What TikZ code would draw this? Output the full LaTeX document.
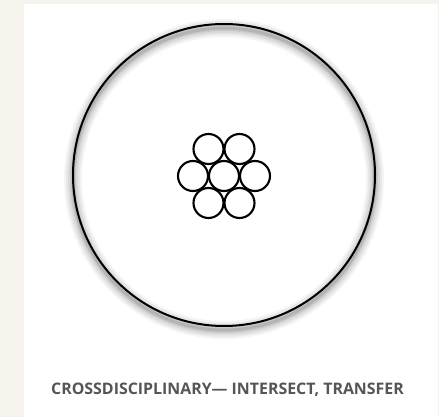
\documentclass[tikz,border=0pt]{standalone}
\usepackage{fontspec}
\setmainfont{Open Sans}
\definecolor{cream}{HTML}{F6F3EC}
\definecolor{labelgray}{HTML}{555555}
\begin{document}
\begin{tikzpicture}[x=1pt,y=-1pt,
  ring/.style={circle,draw=black,line width=2.1pt,minimum size=#1,inner sep=0pt},
  glow/.style={draw=black,opacity=#1},
  caption/.style={text=labelgray,font=\bfseries\fontsize{15.9}{19}\selectfont,inner sep=0pt}]
\useasboundingbox (0,0) rectangle (439,417);
\fill[cream] (0,0) rectangle (439,417);
\fill[white] (24,4) rectangle (438,417);
% soft shadow around big circle
\foreach \w/\o in {18/0.04,14/0.05,10/0.06,6/0.08,3/0.1}
  \draw[glow=\o,line width=\w pt] (224,179) circle (151);
\node[ring=302pt,fill=none,line width=2pt] (big) at (224,175) {};
% cluster of small circles
\node[ring=30pt] (c1) at (208.5,149) {};
\node[ring=30pt] (c2) at (239.5,149) {};
\node[ring=30pt] (c3) at (193,176) {};
\node[ring=30pt] (c4) at (224,176) {};
\node[ring=30pt] (c5) at (255,176) {};
\node[ring=30pt] (c6) at (208.5,203) {};
\node[ring=30pt] (c7) at (239.5,203) {};
\node[caption] (lbl) at (227.5,389.5) {CROSSDISCIPLINARY— INTERSECT, TRANSFER};
\end{tikzpicture}
\end{document}
